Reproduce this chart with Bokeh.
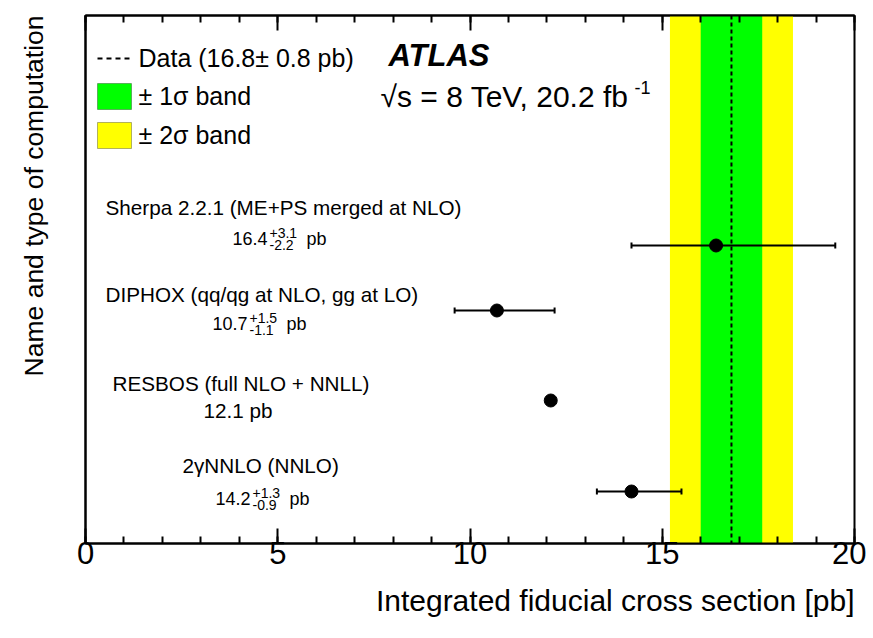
import math
from bokeh.plotting import figure
from bokeh.models import (ColumnDataSource, Whisker, TeeHead, Span, BoxAnnotation,
                          Label, SingleIntervalTicker, FixedTicker, LinearAxis, Range1d,
                          CustomJSTickFormatter)
from bokeh.embed import file_html
from bokeh.resources import INLINE

# ---------------- data ----------------
names = ["Sherpa 2.2.1 (ME+PS merged at NLO)",
         "DIPHOX (qq/qg at NLO, gg at LO)",
         "RESBOS (full NLO + NNLL)",
         "2\u03b3NNLO (NNLO)"]
central = [16.4, 10.7, 12.1, 14.2]
err_up = [3.1, 1.5, 0.0, 1.3]
err_dn = [2.2, 1.1, 0.0, 0.9]
data_value = 16.8
data_err = 0.8
x_start, x_end = 0, 20
x_label = "Integrated fiducial cross section [pb]"
y_label = "Name and type of computation"

# ---------------- layout (page pixels) ----------------
FL, FT, FR, FB = 85, 15, 854, 543      # frame edges on the page
W, H = 866, 638
row_y_px = [245, 310, 400, 491]         # vertical position of each row's marker
name_left_px = [105, 105, 112, 182]
name_mid_px = [207, 294, 383, 465]
val_left_px = [232, 212, 203, 215]
val_mid_px = [238, 323, 410, 498]

FONT = "Liberation Sans"


def dx(px):
    return x_start + (px - FL) / (FR - FL) * (x_end - x_start)


def dy(py):
    return (FB - py) / (FB - FT)


p = figure(width=W, height=H, x_range=Range1d(x_start, x_end), y_range=Range1d(0, 1),
           output_backend="svg", toolbar_location=None,
           min_border_left=FL, min_border_right=W - FR, min_border_top=FT,
           min_border_bottom=H - FB)
p.xgrid.visible = False
p.ygrid.visible = False
p.outline_line_color = "black"
p.outline_line_width = 2
p.background_fill_color = "white"
p.border_fill_color = "white"


def set_end_align(ax):
    if "axis_label_align" in ax.properties():
        for v in ("end", "right", "top"):
            try:
                ax.axis_label_align = v
                break
            except Exception:
                pass


# x axis (ticks pointing inward, ROOT style)
xa = p.xaxis[0]
xa.ticker = SingleIntervalTicker(interval=5, num_minor_ticks=5)
xa.major_tick_in = 15
xa.major_tick_out = 0
xa.minor_tick_in = 7
xa.minor_tick_out = 0
xa.major_tick_line_width = 2
xa.minor_tick_line_width = 2
xa.axis_line_width = 2
xa.major_label_text_font = FONT
xa.major_label_text_font_size = "31px"
xa.major_label_text_color = "black"
xa.major_label_standoff = -2
xa.axis_label = x_label
xa.axis_label_text_font = FONT
xa.axis_label_text_font_size = "30px"
xa.axis_label_text_font_style = "normal"
xa.axis_label_text_color = "black"
xa.axis_label_standoff = 34
xa.axis_label_orientation = 0.0001
set_end_align(xa)

# y axis: only the title, no ticks
ya = p.yaxis[0]
ya.ticker = FixedTicker(ticks=[])
ya.axis_line_width = 2
ya.major_tick_line_color = None
ya.minor_tick_line_color = None
ya.axis_label = y_label
ya.axis_label_text_font = FONT
ya.axis_label_text_font_size = "26.5px"
ya.axis_label_text_font_style = "normal"
ya.axis_label_text_color = "black"
ya.axis_label_standoff = 52
ya.axis_label_orientation = math.pi / 2
set_end_align(ya)

top = LinearAxis(ticker=SingleIntervalTicker(interval=5, num_minor_ticks=5),
                 major_tick_in=15, major_tick_out=0, minor_tick_in=7, minor_tick_out=0,
                 major_tick_line_width=2, minor_tick_line_width=2, axis_line_width=2,
                 formatter=CustomJSTickFormatter(code="return ''"),
                 major_label_standoff=0)
p.add_layout(top, "above")

# data bands
p.add_layout(BoxAnnotation(left=data_value - 2 * data_err, right=data_value + 2 * data_err,
                           fill_color="#ffff00", fill_alpha=1, line_color=None, level="underlay"))
p.add_layout(BoxAnnotation(left=data_value - data_err, right=data_value + data_err,
                           fill_color="#00ff00", fill_alpha=1, line_color=None, level="underlay"))
p.add_layout(Span(location=data_value, dimension="height", line_color="black",
                  line_width=2, line_dash="4 3"))

# predictions
ys = [dy(v) for v in row_y_px]
src = ColumnDataSource(dict(
    x=central, y=ys,
    lo=[c - d for c, d in zip(central, err_dn)],
    hi=[c + u for c, u in zip(central, err_up)]))
p.add_layout(Whisker(source=src, base="y", lower="lo", upper="hi", dimension="width",
                     line_color="black", line_width=2,
                     lower_head=TeeHead(size=6, line_width=2, line_color="black"),
                     upper_head=TeeHead(size=6, line_width=2, line_color="black")))
p.scatter("x", "y", source=src, size=13, color="black")


def lab(text, px, py, size, font=FONT, align="left", style="normal", angle=0.0):
    p.add_layout(Label(x=dx(px), y=dy(py), text=text, text_font=font,
                       text_font_size=f"{size}px", text_align=align,
                       text_baseline="alphabetic", text_font_style=style,
                       text_color="black", angle=angle))


# row labels
for i, nm in enumerate(names):
    lab(nm, name_left_px[i], name_mid_px[i], 20.7)
    x0 = val_left_px[i]
    m = val_mid_px[i]
    if err_up[i] == 0 and err_dn[i] == 0:
        lab(f"{central[i]:.1f} pb", x0, m, 20.7)
    else:
        lab(f"{central[i]:.1f}", x0, m, 18)
        lab(f"+{err_up[i]:.1f}", x0 + 37, m - 6, 14)
        lab(f"-{err_dn[i]:.1f}", x0 + 37, m + 6, 14)
        lab("pb", x0 + 74, m, 18)

# legend
p.add_layout(BoxAnnotation(left=dx(97), right=dx(131), top=dy(83), bottom=dy(109),
                           fill_color="#00ff00", fill_alpha=1, line_color="black", line_width=1))
p.add_layout(BoxAnnotation(left=dx(97), right=dx(131), top=dy(122), bottom=dy(148),
                           fill_color="#ffff00", fill_alpha=1, line_color="black", line_width=1))
p.segment(x0=[dx(97)], y0=[dy(58)], x1=[dx(133)], y1=[dy(58)], line_color="black",
          line_width=2, line_dash="5 4")
lab(f"Data ({data_value}\u00b1 {data_err} pb)", 138, 57, 25)
lab("\u00b1 1\u03c3 band", 138, 95, 25)
lab("\u00b1 2\u03c3 band", 138, 134, 25)

# experiment labels
lab("ATLAS", 388, 55, 31, style="bold italic")
lab("\u221as = 8 TeV, 20.2 fb", 380, 96, 30)
lab("-1", 634, 87, 18)

open("out.html", "w").write(file_html(p, INLINE))
